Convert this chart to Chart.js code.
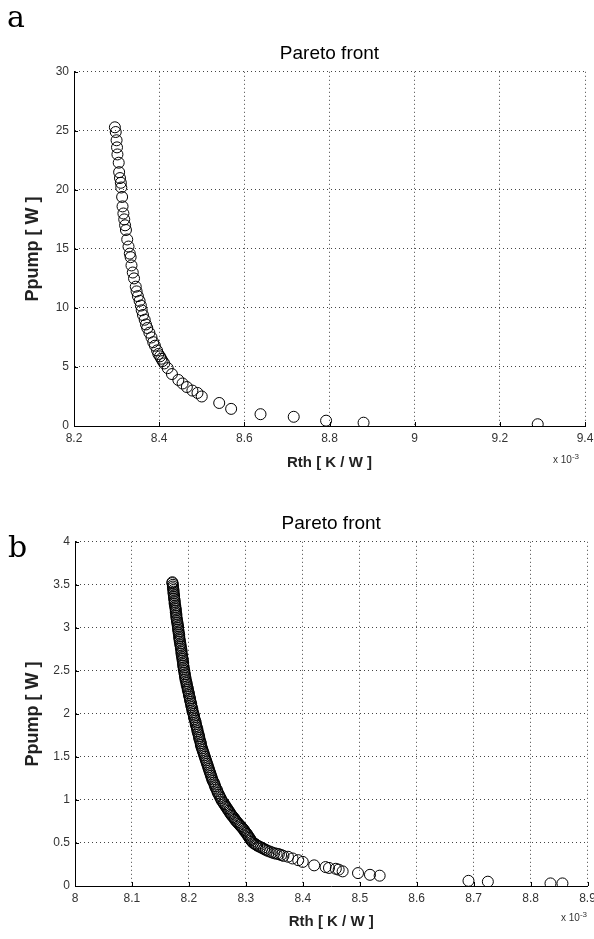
<!DOCTYPE html>
<html>
<head>
<meta charset="utf-8">
<script src="https://cdn.jsdelivr.net/npm/chart.js@4"></script>
<style>
  body { margin: 0; background: #fff; width: 594px; height: 939px; overflow: hidden; position: relative; font-family: "Liberation Sans", Arial, sans-serif; }
  canvas { position: absolute; left: 0; }
  .panel { position: absolute; font-family: "DejaVu Serif", serif; font-size: 30px; color: #000; line-height: 1; }
  .exp { position: absolute; font-size: 10px; color: #333; }
  .exp sup { font-size: 8px; }
</style>
</head>
<body>
<canvas id="chartA" width="594" height="450" style="top:30px"></canvas>
<canvas id="chartB" width="594" height="459" style="top:480px"></canvas>
<div class="panel" style="left:7px;top:2px">a</div>
<div class="panel" style="left:8px;top:532px">b</div>
<div class="exp" style="left:553px;top:452px">x 10<sup>-3</sup></div>
<div class="exp" style="left:561px;top:910px">x 10<sup>-3</sup></div>
<script>
// panel a: Rth (x 10^-3 K/W) vs pump power (W)
var rthA = [8.296, 8.298, 8.300, 8.301, 8.302, 8.305, 8.306, 8.308, 8.310, 8.311,
            8.313, 8.314, 8.316, 8.318, 8.320, 8.322, 8.325, 8.328, 8.331, 8.333,
            8.335, 8.338, 8.341, 8.345, 8.347, 8.350, 8.354, 8.357, 8.359, 8.362,
            8.366, 8.369, 8.372, 8.377, 8.382, 8.386, 8.390, 8.395, 8.398, 8.402,
            8.405, 8.408, 8.412, 8.420, 8.430, 8.445, 8.455, 8.465, 8.478, 8.490,
            8.500, 8.541, 8.569, 8.638, 8.716, 8.792, 8.880, 9.289];
var ppumpA = [25.3, 24.9, 24.2, 23.6, 23.0, 22.3, 21.5, 21.0, 20.6, 20.2,
              19.4, 18.6, 18.0, 17.5, 17.0, 16.6, 15.8, 15.2, 14.6, 14.3,
              13.6, 13.0, 12.5, 11.8, 11.4, 11.0, 10.6, 10.2, 9.8, 9.4,
              9.0, 8.6, 8.3, 7.9, 7.5, 7.1, 6.8, 6.4, 6.1, 5.9,
              5.7, 5.5, 5.3, 4.9, 4.4, 3.9, 3.6, 3.3, 3.0, 2.8,
              2.5, 1.95, 1.45, 1.0, 0.78, 0.45, 0.28, 0.15];
var xTicksA = [8.2, 8.4, 8.6, 8.8, 9, 9.2, 9.4];
var yTicksA = [0, 5, 10, 15, 20, 25, 30];

// panel b
var rthB = [8.171, 8.172, 8.172, 8.173, 8.174, 8.174, 8.175, 8.176, 8.177, 8.177,
            8.178, 8.179, 8.180, 8.181, 8.181, 8.182, 8.183, 8.184, 8.185, 8.186,
            8.187, 8.187, 8.188, 8.189, 8.190, 8.191, 8.192, 8.193, 8.194, 8.195,
            8.196, 8.198, 8.199, 8.200, 8.202, 8.203, 8.204, 8.206, 8.207, 8.209,
            8.210, 8.212, 8.213, 8.215, 8.216, 8.218, 8.219, 8.221, 8.222, 8.224,
            8.226, 8.228, 8.230, 8.232, 8.234, 8.236, 8.238, 8.240, 8.242, 8.245,
            8.247, 8.250, 8.253, 8.256, 8.259, 8.262, 8.265, 8.268, 8.271, 8.274,
            8.278, 8.281, 8.285, 8.289, 8.293, 8.297, 8.300, 8.303, 8.306, 8.309,
            8.313, 8.318, 8.323, 8.329, 8.335, 8.342, 8.350, 8.358, 8.366, 8.374,
            8.382, 8.392, 8.400, 8.420, 8.440, 8.446, 8.458, 8.463, 8.470, 8.497,
            8.518, 8.535, 8.691, 8.725, 8.835, 8.856,
            8.171, 8.172, 8.173, 8.173, 8.174, 8.175, 8.175, 8.176, 8.177, 8.178,
            8.178, 8.179, 8.180, 8.181, 8.182, 8.183, 8.183, 8.184, 8.185, 8.186,
            8.187, 8.188, 8.189, 8.190, 8.190, 8.191, 8.192, 8.193, 8.194, 8.196,
            8.197, 8.198, 8.200, 8.201, 8.202, 8.204, 8.205, 8.206, 8.208, 8.209,
            8.211, 8.212, 8.214, 8.215, 8.217, 8.218, 8.220, 8.221, 8.223, 8.225,
            8.227, 8.229, 8.231, 8.233, 8.235, 8.237, 8.239, 8.241, 8.244, 8.246,
            8.249, 8.251, 8.254, 8.257, 8.261, 8.264, 8.267, 8.270, 8.273, 8.276,
            8.280, 8.283, 8.287, 8.291, 8.295, 8.298, 8.302, 8.305, 8.308, 8.311,
            8.316, 8.320, 8.326, 8.332, 8.338, 8.346, 8.354, 8.362];
var ppumpB = [3.53, 3.50, 3.46, 3.42, 3.38, 3.34, 3.30, 3.26, 3.22, 3.18,
              3.14, 3.10, 3.06, 3.02, 2.98, 2.94, 2.90, 2.86, 2.82, 2.78,
              2.74, 2.70, 2.66, 2.62, 2.58, 2.54, 2.50, 2.46, 2.42, 2.38,
              2.34, 2.30, 2.26, 2.22, 2.18, 2.14, 2.10, 2.06, 2.02, 1.98,
              1.94, 1.90, 1.86, 1.82, 1.78, 1.74, 1.70, 1.66, 1.62, 1.58,
              1.54, 1.50, 1.46, 1.42, 1.38, 1.34, 1.30, 1.26, 1.22, 1.18,
              1.14, 1.10, 1.06, 1.02, 0.98, 0.95, 0.92, 0.89, 0.86, 0.83,
              0.80, 0.77, 0.74, 0.71, 0.68, 0.65, 0.62, 0.59, 0.56, 0.53,
              0.50, 0.48, 0.46, 0.44, 0.42, 0.40, 0.38, 0.37, 0.35, 0.34,
              0.32, 0.30, 0.28, 0.24, 0.22, 0.21, 0.20, 0.19, 0.17, 0.15,
              0.13, 0.12, 0.06, 0.05, 0.03, 0.03,
              3.52, 3.48, 3.44, 3.40, 3.36, 3.32, 3.28, 3.24, 3.20, 3.16,
              3.12, 3.08, 3.04, 3.00, 2.96, 2.92, 2.88, 2.84, 2.80, 2.76,
              2.72, 2.68, 2.64, 2.60, 2.56, 2.52, 2.48, 2.44, 2.40, 2.36,
              2.32, 2.28, 2.24, 2.20, 2.16, 2.12, 2.08, 2.04, 2.00, 1.96,
              1.92, 1.88, 1.84, 1.80, 1.76, 1.72, 1.68, 1.64, 1.60, 1.56,
              1.52, 1.48, 1.44, 1.40, 1.36, 1.32, 1.28, 1.24, 1.20, 1.16,
              1.12, 1.08, 1.04, 1.00, 0.965, 0.935, 0.905, 0.875, 0.845, 0.815,
              0.785, 0.755, 0.725, 0.695, 0.665, 0.635, 0.605, 0.575, 0.545, 0.515,
              0.49, 0.47, 0.45, 0.43, 0.41, 0.39, 0.375, 0.36];
var xTicksB = [8, 8.1, 8.2, 8.3, 8.4, 8.5, 8.6, 8.7, 8.8, 8.9];
var yTicksB = [0, 0.5, 1, 1.5, 2, 2.5, 3, 3.5, 4];

// small inward tick marks like matlab
var inwardTicks = {
    id: 'inwardTicks',
    afterDatasetsDraw: function(chart) {
        var ctx = chart.ctx, area = chart.chartArea;
        var x = chart.scales.x, y = chart.scales.y;
        ctx.save();
        ctx.strokeStyle = '#000';
        ctx.lineWidth = 1;
        ctx.beginPath();
        x.ticks.forEach(function(t) {
            var px = Math.round(x.getPixelForValue(t.value)) + 0.5;
            ctx.moveTo(px, area.bottom);
            ctx.lineTo(px, area.bottom - 4);
        });
        y.ticks.forEach(function(t) {
            var py = Math.round(y.getPixelForValue(t.value)) + 0.5;
            ctx.moveTo(area.left, py);
            ctx.lineTo(area.left + 4, py);
        });
        ctx.stroke();
        ctx.restore();
    }
};

function makeChart(id, xs, ys, xTicks, yTicks, lay) {
    var pts = xs.map(function(v, i) { return {x: v, y: ys[i]}; });
    return new Chart(document.getElementById(id), {
        type: 'scatter',
        data: {
            datasets: [{
                data: pts,
                pointStyle: 'circle',
                pointRadius: 5.5,
                borderWidth: 1,
                borderColor: '#000',
                backgroundColor: 'rgba(0,0,0,0)'
            }]
        },
        plugins: [inwardTicks],
        options: {
            responsive: false,
            animation: false,
            layout: { padding: { left: 0, right: lay.right, top: 0, bottom: 0 } },
            plugins: {
                legend: { display: false },
                tooltip: { enabled: false },
                title: {
                    display: true,
                    fullSize: false,
                    text: 'Pareto front',
                    color: '#000',
                    font: { family: 'Liberation Sans', size: 19, weight: 'normal', lineHeight: 1.2 },
                    padding: { top: lay.titleTop, bottom: lay.titleBottom }
                }
            },
            scales: {
                x: {
                    type: 'linear',
                    min: xTicks[0],
                    max: xTicks[xTicks.length - 1],
                    afterBuildTicks: function(s) { s.ticks = xTicks.map(function(v) { return {value: v}; }); },
                    afterFit: function(s) { s.height = lay.xH; s.paddingLeft = 0; s.paddingRight = 0; },
                    ticks: { padding: 5, color: '#333', font: { family: 'Liberation Sans', size: 12 }, callback: function(v) { return String(v); } },
                    grid: { color: '#444', lineWidth: 1, drawTicks: false },
                    border: { display: true, color: '#000', width: 1, dash: [1, 3] },
                    title: { display: true, text: 'Rth [ K / W ]', color: '#222',
                             font: { family: 'Liberation Sans', size: 15, weight: 'bold', lineHeight: 1.2 },
                             padding: { top: 0, bottom: 8 } }
                },
                y: {
                    type: 'linear',
                    min: yTicks[0],
                    max: yTicks[yTicks.length - 1],
                    afterBuildTicks: function(s) { s.ticks = yTicks.map(function(v) { return {value: v}; }); },
                    afterFit: function(s) { s.width = lay.yW; s.paddingTop = 0; s.paddingBottom = 0; },
                    ticks: { padding: 5, color: '#333', font: { family: 'Liberation Sans', size: 12 }, callback: function(v) { return String(v); } },
                    grid: { color: '#444', lineWidth: 1, drawTicks: false },
                    border: { display: true, color: '#000', width: 1, dash: [1, 3] },
                    title: { display: true, text: 'Ppump [ W ]', color: '#222',
                             font: { family: 'Liberation Sans', size: 18, weight: 'bold', lineHeight: 1.2 },
                             padding: { top: 22, bottom: 0 } }
                }
            }
        }
    });
}

makeChart('chartA', rthA, ppumpA, xTicksA, yTicksA, { right: 9, titleTop: 12, titleBottom: 7, xH: 54, yW: 74 });
makeChart('chartB', rthB, ppumpB, xTicksB, yTicksB, { right: 6, titleTop: 32, titleBottom: 7, xH: 53, yW: 75 });
</script>
</body>
</html>
